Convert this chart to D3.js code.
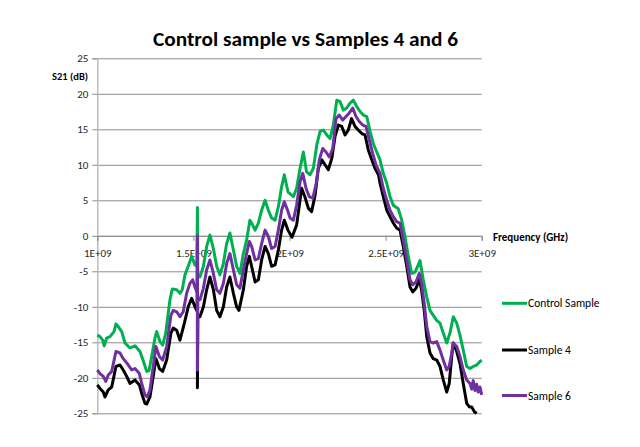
<!DOCTYPE html>
<html><head><meta charset="utf-8">
<script src="https://cdn.jsdelivr.net/npm/d3@7"></script>
<style>body{margin:0;background:#fff} text{font-family:Carlito,Lato,sans-serif}</style>
</head><body><svg id="c" width="640" height="447"></svg>
<script>
const chartTitle = "Control sample vs Samples 4 and 6";
const yTitle = "S21 (dB)";
const xTitle = "Frequency (GHz)";
const xTicks = [1.0, 1.5, 2.0, 2.5, 3.0];
const xTickLabels = ["1E+09", "1.5E+09", "2E+09", "2.5E+09", "3E+09"];
const yTicks = [-25, -20, -15, -10, -5, 0, 5, 10, 15, 20, 25];
const seriesNames = ["Control Sample", "Sample 4", "Sample 6"];
const seriesColors = ["#00b050", "#000000", "#7030a0"];

// [frequency (x1e9 Hz), S21 dB]
const controlSample = [
[1.000,-14.0],[1.014,-14.2],[1.028,-14.7],[1.036,-15.5],[1.049,-14.4],[1.066,-14.2],[1.087,-13.5],[1.097,-12.4],
[1.109,-12.8],[1.127,-13.5],[1.144,-15.1],[1.170,-15.8],[1.196,-15.5],[1.222,-16.3],[1.239,-17.6],[1.257,-19.1],
[1.269,-19.0],[1.283,-17.0],[1.300,-14.4],[1.309,-13.5],[1.326,-14.9],[1.340,-15.4],[1.356,-13.7],[1.378,-9.0],
[1.390,-7.5],[1.413,-7.6],[1.430,-8.1],[1.442,-7.6],[1.456,-5.5],[1.473,-4.3],[1.491,-2.9],[1.508,-4.1],
[1.518,-4.3],[1.521,4.0],[1.523,-5.6],[1.534,-5.8],[1.552,-4.3],[1.569,-1.5],[1.586,0.1],[1.604,-1.8],
[1.621,-4.3],[1.638,-5.5],[1.656,-3.9],[1.673,-1.1],[1.690,0.4],[1.708,-2.0],[1.725,-4.3],[1.742,-5.3],
[1.760,-2.5],[1.777,-0.6],[1.794,2.2],[1.803,1.8],[1.821,0.8],[1.838,1.8],[1.855,3.6],[1.873,5.0],
[1.890,3.6],[1.907,2.5],[1.925,2.2],[1.942,4.1],[1.959,6.9],[1.973,8.6],[1.992,6.2],[2.020,5.5],
[2.037,6.7],[2.055,9.5],[2.072,11.8],[2.089,9.0],[2.107,8.6],[2.124,9.5],[2.142,12.8],[2.159,14.7],
[2.176,14.9],[2.194,14.2],[2.211,13.7],[2.228,15.6],[2.246,19.1],[2.263,18.9],[2.280,17.7],[2.298,18.0],
[2.315,18.7],[2.332,19.1],[2.350,18.2],[2.367,17.5],[2.384,17.0],[2.402,16.8],[2.419,14.7],[2.436,13.0],
[2.454,11.8],[2.471,10.7],[2.488,8.8],[2.506,7.4],[2.523,5.5],[2.540,4.3],[2.566,3.8],[2.584,2.2],
[2.601,-0.1],[2.618,-2.9],[2.636,-5.3],[2.653,-5.1],[2.670,-4.1],[2.679,-3.5],[2.696,-6.2],[2.714,-8.6],
[2.731,-10.5],[2.748,-11.2],[2.766,-11.9],[2.783,-12.3],[2.800,-13.7],[2.818,-15.1],[2.835,-13.7],[2.852,-11.4],
[2.870,-12.3],[2.887,-14.0],[2.904,-16.1],[2.922,-18.4],[2.939,-18.7],[2.956,-18.4],[2.974,-18.2],[2.991,-17.7],
[3.000,-17.5]
];
const sample4 = [
[1.000,-21.0],[1.014,-21.5],[1.031,-22.0],[1.040,-22.7],[1.057,-21.7],[1.075,-21.3],[1.097,-18.4],[1.118,-18.2],
[1.135,-18.9],[1.153,-19.8],[1.170,-20.8],[1.196,-20.3],[1.219,-21.0],[1.231,-22.2],[1.248,-23.6],[1.257,-23.7],
[1.274,-22.7],[1.291,-19.8],[1.305,-17.3],[1.323,-18.7],[1.340,-19.1],[1.361,-17.5],[1.383,-13.7],[1.395,-13.0],
[1.413,-13.3],[1.430,-14.7],[1.453,-12.3],[1.473,-10.0],[1.491,-8.8],[1.508,-10.0],[1.519,-10.6],[1.521,-4.0],
[1.521,-21.4],[1.523,-11.2],[1.534,-11.4],[1.552,-10.0],[1.569,-7.6],[1.586,-5.8],[1.604,-7.6],[1.621,-10.5],
[1.638,-11.4],[1.656,-10.0],[1.673,-7.2],[1.690,-5.8],[1.708,-8.1],[1.725,-10.0],[1.737,-10.5],[1.760,-7.6],
[1.777,-4.3],[1.791,-2.9],[1.803,-4.3],[1.821,-6.5],[1.838,-6.2],[1.855,-3.4],[1.873,-1.5],[1.890,-2.5],
[1.907,-4.3],[1.925,-4.1],[1.942,-2.0],[1.959,0.8],[1.973,2.2],[1.992,0.8],[2.013,-0.2],[2.037,1.5],
[2.063,6.7],[2.080,5.5],[2.098,3.9],[2.115,3.4],[2.133,5.7],[2.150,9.5],[2.168,10.7],[2.185,10.0],
[2.202,9.3],[2.220,10.9],[2.237,14.0],[2.254,15.6],[2.272,15.4],[2.289,14.2],[2.306,14.9],[2.323,16.5],
[2.341,15.4],[2.358,14.9],[2.376,14.4],[2.393,14.2],[2.410,12.1],[2.428,10.7],[2.445,9.5],[2.463,8.6],
[2.471,7.4],[2.488,5.5],[2.506,3.6],[2.523,2.7],[2.540,1.8],[2.557,1.1],[2.575,0.8],[2.592,-1.5],
[2.610,-4.3],[2.627,-7.2],[2.641,-7.9],[2.658,-7.4],[2.675,-6.2],[2.687,-7.6],[2.701,-10.5],[2.714,-14.2],
[2.731,-16.5],[2.748,-17.3],[2.766,-17.5],[2.783,-18.4],[2.800,-20.3],[2.818,-22.0],[2.831,-20.8],[2.844,-17.0],
[2.852,-15.1],[2.870,-16.3],[2.887,-18.0],[2.904,-20.8],[2.922,-23.6],[2.936,-24.1],[2.948,-24.1],[2.962,-24.8],
[2.974,-25.0]
];
const sample6 = [
[1.000,-18.9],[1.014,-19.4],[1.031,-19.8],[1.044,-20.5],[1.057,-19.6],[1.075,-19.1],[1.097,-16.3],[1.118,-16.5],
[1.135,-17.3],[1.156,-18.0],[1.179,-18.9],[1.196,-18.7],[1.219,-19.4],[1.231,-20.8],[1.248,-22.4],[1.260,-22.7],
[1.274,-21.7],[1.291,-18.4],[1.305,-15.6],[1.323,-17.0],[1.340,-17.5],[1.361,-15.6],[1.383,-11.2],[1.395,-10.5],
[1.413,-10.7],[1.430,-11.4],[1.447,-10.7],[1.465,-8.1],[1.482,-6.7],[1.496,-6.2],[1.508,-7.2],[1.519,-8.0],
[1.521,0.0],[1.521,-18.9],[1.523,-8.8],[1.534,-9.0],[1.552,-7.4],[1.569,-4.8],[1.586,-3.4],[1.604,-5.3],
[1.621,-7.6],[1.638,-8.1],[1.656,-6.7],[1.673,-3.9],[1.690,-2.5],[1.708,-4.8],[1.725,-6.9],[1.742,-7.4],
[1.760,-4.8],[1.777,-2.5],[1.791,-0.8],[1.803,-1.5],[1.821,-3.4],[1.838,-3.2],[1.855,-1.1],[1.873,0.8],
[1.890,-0.1],[1.907,-1.8],[1.925,-1.5],[1.942,0.8],[1.959,3.6],[1.973,4.8],[1.990,3.6],[2.003,2.5],
[2.020,2.2],[2.037,4.3],[2.055,7.6],[2.069,8.8],[2.086,6.7],[2.103,5.5],[2.121,5.3],[2.138,7.2],
[2.155,10.7],[2.173,12.3],[2.190,11.8],[2.207,11.1],[2.225,12.3],[2.242,16.5],[2.259,17.0],[2.277,16.3],
[2.294,16.8],[2.311,17.3],[2.329,18.0],[2.346,16.8],[2.363,16.1],[2.381,15.6],[2.398,15.4],[2.415,13.5],
[2.433,11.6],[2.450,10.0],[2.471,8.8],[2.488,6.7],[2.506,5.0],[2.523,3.6],[2.540,2.7],[2.557,2.0],
[2.575,1.8],[2.592,-0.6],[2.610,-3.4],[2.627,-6.2],[2.641,-6.9],[2.658,-6.5],[2.675,-5.3],[2.687,-6.7],
[2.701,-9.5],[2.714,-12.8],[2.731,-14.9],[2.748,-15.1],[2.766,-14.9],[2.783,-16.1],[2.800,-17.5],[2.818,-18.9],
[2.831,-18.4],[2.844,-16.5],[2.852,-15.1],[2.870,-15.6],[2.887,-17.0],[2.904,-18.9],[2.922,-20.3],[2.939,-20.8],
[2.948,-21.6],[2.956,-20.4],[2.965,-21.8],[2.974,-20.9],[2.982,-22.0],[2.991,-21.3],[3.000,-22.4]
];
const seriesData = [controlSample, sample4, sample6];

const svg = d3.select("#c");
const L = 97.3, R = 481.7, T = 58.3, B = 413.3;
const x = d3.scaleLinear().domain([1, 3]).range([L, R]);
const y = d3.scaleLinear().domain([-25, 25]).range([B, T]);

// gridlines
svg.append("g").attr("transform", `translate(${L},0)`)
  .call(d3.axisLeft(y).tickValues(yTicks).tickSize(-(R - L)).tickFormat(""))
  .call(g => g.select(".domain").remove())
  .call(g => g.selectAll("line").attr("stroke", "#8c8c8c").attr("stroke-width", 1));

// y axis
svg.append("g").attr("transform", `translate(${L},0)`)
  .call(d3.axisLeft(y).tickValues(yTicks).tickSize(5).tickPadding(4).tickFormat(d3.format("d")))
  .call(g => g.select(".domain").attr("stroke", "#bdbdbd").attr("stroke-width", 1.5))
  .call(g => g.selectAll("line").attr("stroke", "#8c8c8c"))
  .call(g => g.selectAll("text").attr("font-size", 11).attr("fill", "#262626")
      .attr("font-family", "Carlito,Lato,sans-serif").text(d => d < 0 ? "-" + (-d) : d));

// x axis at y=0
svg.append("g").attr("transform", `translate(0,${y(0)})`)
  .call(d3.axisBottom(x).tickValues(xTicks).tickSize(5).tickPadding(8)
      .tickFormat((d, i) => xTickLabels[i]))
  .call(g => g.select(".domain").attr("stroke", "#8c8c8c").attr("stroke-width", 1))
  .call(g => g.selectAll("line").attr("stroke", "#8c8c8c"))
  .call(g => g.selectAll("text").attr("font-size", 11).attr("fill", "#262626")
      .attr("font-family", "Carlito,Lato,sans-serif"));

// series
const line = d3.line().x(d => x(d[0])).y(d => y(d[1]));
seriesData.forEach((s, i) => {
  svg.append("path").datum(s).attr("d", line).attr("fill", "none")
    .attr("stroke", seriesColors[i]).attr("stroke-width", 3)
    .attr("stroke-linejoin", "round").attr("stroke-linecap", "butt");
});

// title
svg.append("text").attr("x", 305.5).attr("y", 46).attr("text-anchor", "middle")
  .attr("font-size", 20).attr("font-weight", "bold").attr("fill", "#000")
  .attr("textLength", 305).attr("lengthAdjust", "spacingAndGlyphs").text(chartTitle);

// axis titles
svg.append("text").attr("x", 52).attr("y", 80).attr("font-size", 10.5).attr("font-weight", "bold")
  .attr("fill", "#000").text(yTitle);
svg.append("text").attr("x", 493).attr("y", 240.5).attr("font-size", 11).attr("font-weight", "bold")
  .attr("fill", "#000").text(xTitle);

// legend
const legY = [303.3, 350, 395.5];
seriesNames.forEach((n, i) => {
  svg.append("line").attr("x1", 502).attr("x2", 527).attr("y1", legY[i]).attr("y2", legY[i])
    .attr("stroke", seriesColors[i]).attr("stroke-width", 3);
  svg.append("text").attr("x", 528).attr("y", legY[i] + 4).attr("font-size", 11.5)
    .attr("fill", "#000").text(n);
});
</script></body></html>
